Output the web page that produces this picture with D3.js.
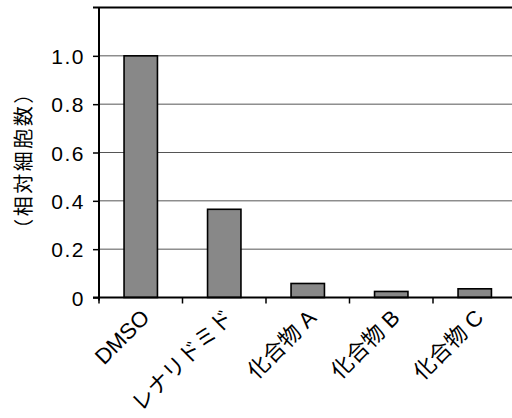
<!DOCTYPE html>
<html><head><meta charset="utf-8">
<script src="https://cdn.jsdelivr.net/npm/d3@7"></script>
<style>
html,body{margin:0;padding:0;background:#fff;}
svg{display:block;}
text{font-family:"Liberation Sans","Noto Sans CJK JP",sans-serif;fill:#000;}
</style></head>
<body><svg id="c" width="512" height="418"></svg>
<script>
const categories = ["DMSO","レナリドミド","化合物 A","化合物 B","化合物 C"];
const values = [1.0, 0.365, 0.058, 0.025, 0.036];
const yTicks = [0, 0.2, 0.4, 0.6, 0.8, 1.0];
const yTickLabels = ["0","0.2","0.4","0.6","0.8","1.0"];
const yTitle = "（相対細胞数）";

const svg = d3.select("#c");
const x0 = 99, x1 = 516.5, yTop = 7.5, yBot = 297.5;
const x = d3.scaleBand().domain(categories).range([x0, x1]).paddingInner(0.6).paddingOuter(0.3);
const y = d3.scaleLinear().domain([0, 1.2]).range([yBot, yTop]);

// gridlines
svg.append("g").selectAll("line").data(yTicks.filter(d => d > 0)).join("line")
  .attr("x1", x0).attr("x2", 512).attr("y1", d => y(d)).attr("y2", d => y(d))
  .attr("stroke", "#555").attr("stroke-width", 1);
// top line at 1.2
svg.append("line").attr("x1", 93).attr("x2", 512).attr("y1", y(1.2)).attr("y2", y(1.2))
  .attr("stroke", "#000").attr("stroke-width", 2.2);

// bars
svg.append("g").selectAll("rect").data(values).join("rect")
  .attr("x", (d, i) => x(categories[i]))
  .attr("width", x.bandwidth())
  .attr("y", d => y(d))
  .attr("height", d => yBot - y(d))
  .attr("fill", "#888").attr("stroke", "#000").attr("stroke-width", 1.6);

// y axis
const yAxis = d3.axisLeft(y).tickValues(yTicks).tickFormat((d, i) => yTickLabels[i]).tickSize(6).tickPadding(8);
const gy = svg.append("g").attr("transform", `translate(${x0},0)`).call(yAxis)
  .attr("font-size", null).attr("font-family", null);
gy.select(".domain").remove();
gy.selectAll(".tick line").attr("stroke", "#000").attr("stroke-width", 1.5);
gy.selectAll(".tick text").style("font-size", "21px").style("letter-spacing", "1.5px")
  .attr("dy", "0.36em");
svg.append("line").attr("x1", x0).attr("x2", x0).attr("y1", yTop).attr("y2", yBot + 3)
  .attr("stroke", "#000").attr("stroke-width", 2);

// x axis baseline and ticks
svg.append("line").attr("x1", 93).attr("x2", 512).attr("y1", yBot).attr("y2", yBot)
  .attr("stroke", "#000").attr("stroke-width", 2);
const bounds = categories.map(c => x(c) - x.step() * x.paddingInner() / 2);
bounds[0] = x0;
svg.append("g").selectAll("line").data(bounds).join("line")
  .attr("x1", d => d).attr("x2", d => d).attr("y1", yBot).attr("y2", yBot + 6)
  .attr("stroke", "#000").attr("stroke-width", 1.5);

// x labels
svg.append("g").selectAll("text").data(categories).join("text")
  .attr("transform", d => `translate(${x(d) + x.bandwidth() / 2 + 10},319) rotate(-45)`)
  .attr("text-anchor", "end").style("font-size", "22px").text(d => d);

// y title
svg.append("text").attr("transform", "translate(31,160) rotate(-90)")
  .attr("text-anchor", "middle")
  .style("font-family", "'Noto Sans CJK JP'")
  .style("font-size", "20px").style("letter-spacing", "2.5px").text(yTitle);
</script></body></html>
